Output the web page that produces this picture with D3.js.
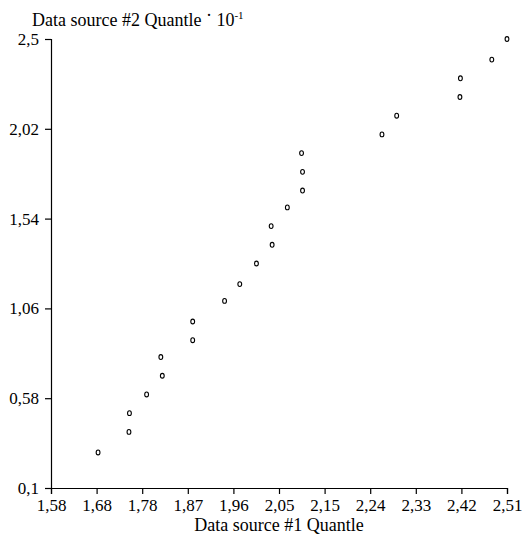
<!DOCTYPE html>
<html>
<head>
<meta charset="utf-8">
<script src="https://cdn.jsdelivr.net/npm/d3@7"></script>
<style>
  html, body { margin: 0; padding: 0; background: #fff; }
  svg { display: block; }
  text { font-family: "Liberation Serif", "Times New Roman", serif; fill: #000; }
</style>
</head>
<body>
<script>
// Data (quantile pairs)
const source1 = [1.676, 1.739, 1.740, 1.775, 1.807, 1.804, 1.869, 1.869, 1.934, 1.965, 1.999, 2.031, 2.029, 2.062, 2.093, 2.093, 2.091, 2.255, 2.285, 2.414, 2.415, 2.479, 2.510];
const source2 = [0.29, 0.40, 0.50, 0.60, 0.70, 0.80, 0.89, 0.99, 1.10, 1.19, 1.30, 1.40, 1.50, 1.60, 1.69, 1.79, 1.89, 1.99, 2.09, 2.19, 2.29, 2.39, 2.50];

const xDomain = [1.58, 2.51];
const yDomain = [0.1, 2.5];
const xTickLabels = ["1,58", "1,68", "1,78", "1,87", "1,96", "2,05", "2,15", "2,24", "2,33", "2,42", "2,51"];
const yTickLabels = ["0,1", "0,58", "1,06", "1,54", "2,02", "2,5"];
const xTitle = "Data source #1 Quantle";
const yTitle = "Data source #2 Quantle";

const W = 527, H = 544;
const m = { left: 51, top: 39, right: 20, bottom: 56 };
const iw = W - m.left - m.right, ih = H - m.top - m.bottom;

const svg = d3.select("body").append("svg").attr("width", W).attr("height", H);
const g = svg.append("g").attr("transform", `translate(${m.left},${m.top})`);

const x = d3.scaleLinear().domain(xDomain).range([0, iw]);
const y = d3.scaleLinear().domain(yDomain).range([ih, 0]);

const xTickVals = xTickLabels.map((_, i) => xDomain[0] + i * (xDomain[1] - xDomain[0]) / (xTickLabels.length - 1));
const yTickVals = yTickLabels.map((_, i) => yDomain[0] + i * (yDomain[1] - yDomain[0]) / (yTickLabels.length - 1));

const xAxis = g.append("g").attr("transform", `translate(0,${ih})`)
  .call(d3.axisBottom(x).tickValues(xTickVals).tickFormat((d, i) => xTickLabels[i]).tickSize(6).tickPadding(5));
const yAxis = g.append("g")
  .call(d3.axisLeft(y).tickValues(yTickVals).tickFormat((d, i) => yTickLabels[i]).tickSize(6).tickPadding(6));

[xAxis, yAxis].forEach(a => {
  a.selectAll("path, line").attr("stroke", "#000").attr("stroke-width", 1.2);
  a.selectAll("text").style("font-family", '"Liberation Serif", "Times New Roman", serif').style("font-size", "17px").attr("fill", "#000");
});

g.selectAll("ellipse.pt")
  .data(source1.map((d, i) => [d, source2[i]]))
  .join("ellipse")
  .attr("class", "pt")
  .attr("cx", d => x(d[0]))
  .attr("cy", d => y(d[1]))
  .attr("rx", 1.9)
  .attr("ry", 2.4)
  .attr("fill", "none")
  .attr("stroke", "#000")
  .attr("stroke-width", 1.1);

svg.append("text")
  .attr("x", m.left + iw / 2)
  .attr("y", 531)
  .attr("text-anchor", "middle")
  .style("font-size", "18px")
  .text(xTitle);

const yt = svg.append("text")
  .attr("x", 32)
  .attr("y", 26)
  .style("font-size", "18px");
yt.append("tspan").text(yTitle + " ");
yt.append("tspan").attr("dy", -5).text("·");
yt.append("tspan").attr("dy", 5).text(" 10");
yt.append("tspan").attr("dy", -7).style("font-size", "11px").text("-1");
</script>
</body>
</html>
